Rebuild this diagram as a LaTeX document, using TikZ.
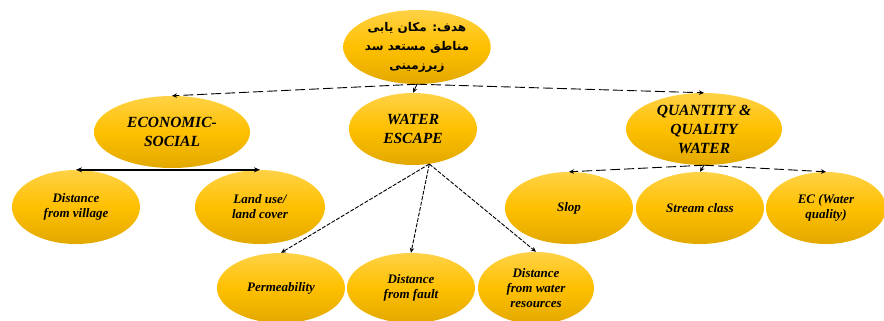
\documentclass[tikz,border=0pt]{standalone}
\usepackage{fontspec}
\setmainfont{Liberation Serif}
\newfontfamily\farsifont[Script=Arabic]{DejaVu Sans}
\TeXXeTstate=1
\usetikzlibrary{shapes.geometric,arrows.meta}
\definecolor{goldtop}{RGB}{255,210,70}
\definecolor{goldmid}{RGB}{255,192,0}
\definecolor{goldbot}{RGB}{226,168,0}
\tikzset{
  oval/.style={ellipse, inner sep=0pt, top color=goldtop, bottom color=goldbot, middle color=goldmid, align=center},
  bigtext/.style={font=\fontsize{15.5}{19}\selectfont\bfseries\itshape},
  smalltext/.style={font=\fontsize{13}{15}\selectfont\bfseries\itshape},
  fatext/.style={font=\farsifont\fontsize{12}{19}\selectfont\bfseries\upshape},
  tip/.style={-{Stealth[length=5pt,width=4.5pt]}},
  longdash/.style={tip, line width=0.9pt, dash pattern=on 10pt off 4pt},
  shortdash/.style={tip, line width=0.9pt, dash pattern=on 4pt off 1.5pt},
  solidthick/.style={{Stealth[length=6pt,width=5pt]}-{Stealth[length=6pt,width=5pt]}, line width=2pt}
}
\begin{document}
\begin{tikzpicture}[x=1pt,y=-1pt]
\useasboundingbox (0,0) rectangle (884,321);
% top goal
\node[oval, fatext, minimum width=134pt, minimum height=74pt] (goal) at (417,47)
  {\beginR هدف: مکان یابی\endR\\\beginR مناطق مستعد سد\endR\\\beginR زیرزمینی\endR};
% second level
\node[oval, bigtext, minimum width=156pt, minimum height=72pt] (eco) at (172,132) {ECONOMIC-\\SOCIAL};
\node[oval, bigtext, minimum width=128pt, minimum height=72pt] (we) at (413,129) {WATER\\ESCAPE};
\node[oval, bigtext, minimum width=156pt, minimum height=72pt] (qq) at (704,129) {QUANTITY \&\\QUALITY\\WATER};
% third level
\node[oval, smalltext, minimum width=128pt, minimum height=74pt] (dv) at (76,207) {Distance\\from village};
\node[oval, smalltext, minimum width=130pt, minimum height=74pt] (lu) at (260,207) {Land use/\\land cover};
\node[oval, smalltext, minimum width=128pt, minimum height=72pt] (slop) at (569,208) {Slop};
\node[oval, smalltext, minimum width=128pt, minimum height=72pt] (sc) at (700,208) {Stream class};
\node[oval, smalltext, minimum width=120pt, minimum height=72pt] (ec) at (826,208) {EC (Water\\quality)};
\node[oval, smalltext, minimum width=128pt, minimum height=70pt] (perm) at (281,288) {Permeability};
\node[oval, smalltext, minimum width=128pt, minimum height=70pt] (df) at (411,288) {Distance\\from fault};
\node[oval, smalltext, minimum width=116pt, minimum height=72pt] (dw) at (536,288) {Distance\\from water\\resources};
% connectors
\draw[longdash] (goal.south) -- (eco.north);
\draw[longdash] (goal.south) -- (qq.north);
\draw[tip, line width=0.9pt] (goal.south) -- (we.north);
\draw[solidthick] (dv.north) -- (lu.north);
\draw[longdash] (qq.south) -- (slop.north);
\draw[longdash] (qq.south) -- (ec.north);
\draw[tip, line width=0.9pt] (qq.south) -- (sc.north);
\draw[shortdash] (we.-65) -- (perm.north);
\draw[shortdash] (we.-65) -- (df.north);
\draw[shortdash] (we.-65) -- (dw.north);
\end{tikzpicture}
\end{document}
